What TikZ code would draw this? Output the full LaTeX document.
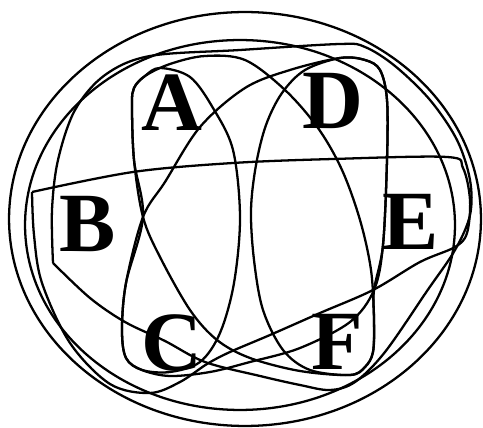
\documentclass[tikz,border=0pt]{standalone}
\usepackage{fontspec}
\setmainfont{Liberation Serif}
\usepackage{tikz}

\begin{document}
\begin{tikzpicture}[x=0.02cm,y=-0.02cm]

      \tikzset{curve/.style = {line width=1.3pt, line join=round}}
      \tikzset{letter/.style = {inner sep=0pt, font=\bfseries\fontsize{48}{48}\selectfont}}
      \useasboundingbox (0,0) rectangle (483,428);
      % outer ovals
      \draw[curve] (245,219) ellipse [x radius=4.72cm, y radius=4.14cm];
      \draw[curve] (240,225) ellipse [x radius=4.3cm, y radius=3.7cm];
      % band through B and E
      \draw[curve] plot[smooth, tension=0.55] coordinates {(32,192) (133,172) (233,163) (333,159) (447,157) (463,168) (470,200) (467,233) (455,247) (420,262) (373,290) (320,313) (270,335) (230,352) (207,364) (180,382) (150,393) (110,384) (70,343) (42,283) (34,235) (32,192)};
      % big curve cut by the line from B to C
      \draw[curve] plot[smooth, tension=0.55] coordinates {(53,263) (90,298) (125,322) (165,341) (205,362) (260,376) (300,385) (330,390) (355,382) (385,352) (427,291) (455,250) (470,215) (470,180) (457,140) (430,100) (395,66) (365,47) (340,44) (240,50) (150,56) (105,75) (75,110) (58,160) (52,210) (53,263)};
      % diagonal A to F
      \draw[curve] plot[smooth cycle, tension=0.55] coordinates {(170,64) (205,56) (245,60) (285,90) (318,128) (342,170) (360,220) (371,270) (374,320) (373,352) (365,367) (350,375) (300,371) (250,358) (217,340) (190,310) (160,257) (143,217) (134,160) (132,105) (134,88) (145,76)};
      % diagonal C to D
      \draw[curve] plot[smooth cycle, tension=0.55] coordinates {(142,370) (126,358) (122,330) (126,283) (143,217) (165,182) (200,127) (245,88) (290,70) (340,58) (365,60) (380,70) (387,100) (387,160) (383,245) (374,290) (350,322) (300,348) (250,362) (210,372) (170,376)};
      % left lens
      \draw[curve] plot[smooth cycle, tension=0.55] coordinates {(145,76) (160,68) (190,77) (213,108) (233,150) (240,217) (234,283) (220,333) (200,362) (170,372) (142,370) (126,358) (122,330) (126,283) (143,217) (134,160) (132,105) (134,88)};
      % right lens
      \draw[curve] plot[smooth cycle, tension=0.55] coordinates {(380,70) (365,60) (340,58) (305,70) (282,93) (266,125) (256,165) (251,210) (254,260) (263,310) (283,350) (310,370) (350,375) (365,367) (373,352) (374,320) (374,290) (383,245) (387,160) (387,100)};
      % letters
      \node[letter] (a) at (172,103) {A};
      \node[letter] (d) at (333,101) {D};
      \node[letter] (b) at (88,224)  {B};
      \node[letter] (e) at (411,222) {E};
      \node[letter] (c) at (172,343) {C};
      \node[letter] (f) at (337,342) {F};
\end{tikzpicture}
\end{document}
